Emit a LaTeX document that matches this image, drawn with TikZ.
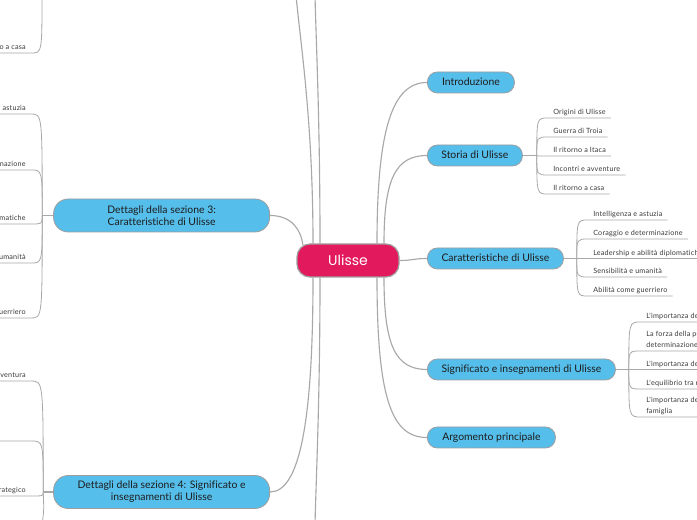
\documentclass[tikz,border=0pt]{standalone}
\usepackage{fontspec}
\setmainfont{Lato}[Ligatures=NoCommon]
\newfontfamily\rootfont{Poppins}
\newfontfamily\leafface{Lato}[Ligatures=NoCommon, LetterSpace=3]
\usepackage{xcolor}
\usepackage{tikz}
\usetikzlibrary{positioning, calc}
\definecolor{nodeBlue}{HTML}{56BEEB}
\definecolor{rootPink}{HTML}{E3195E}
\definecolor{edgeGray}{HTML}{A8A8A8}
\definecolor{borderGray}{HTML}{9E9E9E}
\definecolor{branchText}{HTML}{1C1C1C}
\definecolor{leafText}{HTML}{3A3A3A}

\newcommand{\leaffont}{\leafface\fontsize{5.4pt}{8.25pt}\selectfont}
\newcommand{\branchfont}{\fontsize{7.8pt}{9pt}\selectfont}

\tikzset{
  rootnode/.style={draw=borderGray, line width=0.9pt, fill=rootPink, text=white,
    rounded corners=9.75pt, minimum width=76.5pt, minimum height=24.75pt,
    font=\rootfont\fontsize{10.5pt}{12pt}\selectfont},
  bubble/.style={draw=borderGray, line width=0.6pt, fill=nodeBlue, text=branchText,
    inner xsep=0pt, font=\branchfont},
  branch/.style={bubble, rounded corners=7.5pt, minimum height=15.75pt,
    text height=5.8pt, text depth=1.6pt, anchor=west},
  detail/.style={bubble, rounded corners=11pt, minimum height=24.75pt,
    minimum width=162pt, align=center, anchor=east},
  link/.style={draw=edgeGray, line width=0.85pt},
  twig/.style={draw=edgeGray, line width=0.6pt},
  leafR/.style={font=\leaffont, text=leafText, inner xsep=3.75pt, inner ysep=1.3pt,
    text depth=1pt, anchor=south west, align=left},
  leafL/.style={leafR, anchor=south east, align=right},
}

\begin{document}
\begin{tikzpicture}[x=0.75pt, y=-0.75pt]
  \useasboundingbox[fill=white] (0,0) rectangle (697,520);

  % Root — CENTER
  \node[rootnode] (root) at (348,260.5) {Ulisse};

  % Main topics — RIGHT
  \node[branch, minimum width=65.25pt] (intro) at (427,82.5) {Introduzione};
  \node[branch, minimum width=71.25pt] (storia) at (427,155.5) {Storia di Ulisse};
  \node[branch, minimum width=102pt] (caratt) at (427,258.5) {Caratteristiche di Ulisse};
  \node[branch, minimum width=141pt] (signif) at (427,369.5) {Significato e insegnamenti di Ulisse};
  \node[branch, minimum width=96pt] (argom) at (427,437.5) {Argomento principale};

  % Detail sections — LEFT
  \node[detail] (sez3) at (270,215.5) {Dettagli della sezione 3:\\Caratteristiche di Ulisse};
  \node[detail] (sez4) at (270,492) {Dettagli della sezione 4: Significato e\\insegnamenti di Ulisse};

  % root -> right topics
  \draw[link] ($(root.north)+(29,0)$) .. controls (377,130) and (392,82.5) .. (intro.west);
  \draw[link] ($(root.north)+(36,0)$) .. controls (384,180) and (395,155.5) .. (storia.west);
  \draw[link] (root.east) .. controls (412,260.5) and (414,258.5) .. (caratt.west);
  \draw[link] ($(root.south)+(36,0)$) .. controls (384,345) and (395,369.5) .. (signif.west);
  \draw[link] ($(root.south)+(29,0)$) .. controls (377,400) and (392,437.5) .. (argom.west);

  % root -> left sections (some run off the page)
  \coordinate (up1) at (296,-5);
  \coordinate (up2) at (315,-5);
  \coordinate (down1) at (315,525);
  \draw[link] ($(root.north)+(-45,2)$) .. controls (301,230) and (292,215.5) .. (sez3.east);
  \draw[link] ($(root.south)+(-35,0)$) .. controls (313,420) and (300,492) .. (sez4.east);
  \draw[link] ($(root.north)+(-35,0)$) .. controls (313,120) and (300,40) .. (up1);
  \draw[link] ($(root.north)+(-28,0)$) .. controls (320,120) and (316,40) .. (up2);
  \draw[link] ($(root.south)+(-28,0)$) .. controls (320,400) and (316,480) .. (down1);

  % Storia di Ulisse — leaves
  \coordinate (sj) at ($(storia.east)+(14,0)$);
  \draw[link] (storia.east) -- (sj);
  \foreach \y/\t [count=\i] in {118/Origini di Ulisse, 137/Guerra di Troia,
      156/Il ritorno a Itaca, 175/Incontri e avventure, 194/Il ritorno a casa}{
    \node[leafR] (s\i) at (548,\y) {\t};
    \draw[twig] (sj) .. controls (sj |- s\i.south west) .. (s\i.south west) -- (s\i.south east);
  }

  % Caratteristiche di Ulisse — leaves
  \coordinate (cj) at ($(caratt.east)+(13,0)$);
  \draw[link] (caratt.east) -- (cj);
  \foreach \y/\t [count=\i] in {220/Intelligenza e astuzia, 239/Coraggio e determinazione,
      258.5/Leadership e abilità diplomatiche, 277/Sensibilità e umanità,
      296/Abilità come guerriero}{
    \node[leafR] (c\i) at (588,\y) {\t};
    \draw[twig] (cj) .. controls (cj |- c\i.south west) .. (c\i.south west) -- (c\i.south east);
  }

  % Significato e insegnamenti — leaves
  \coordinate (mj) at ($(signif.east)+(13,0)$);
  \draw[link] (signif.east) -- (mj);
  \foreach \y/\t [count=\i] in {322/L'importanza della conoscenza,
      351/{La forza della perseveranza e della\\determinazione},
      369.5/L'importanza della fedeltà, 389/L'equilibrio tra ragione e cuore,
      417/{L'importanza della casa e della\\famiglia}}{
    \node[leafR] (m\i) at (641,\y) {\t};
    \draw[twig] (mj) .. controls (mj |- m\i.south west) .. (m\i.south west) -- (m\i.south east);
  }

  % Sezione 3 — leaves on the left
  \coordinate (tj) at ($(sez3.west)+(-11,0)$);
  \draw[link] (sez3.west) -- (tj);
  \foreach \y/\t [count=\i] in {114/Intelligenza e astuzia, 170/Coraggio e determinazione,
      224/Leadership e abilità diplomatiche, 263/Sensibilità e umanità,
      318/Abilità come guerriero}{
    \node[leafL] (t\i) at (31,\y) {\t};
    \draw[twig] (tj) .. controls (tj |- t\i.south east) .. (t\i.south east) -- (t\i.south west);
  }

  % Sezione 4 — leaves on the left
  \coordinate (qj) at ($(sez4.west)+(-10,0)$);
  \coordinate (qd) at (42,525);
  \draw[link] (sez4.west) -- (qj);
  \node[leafL] (q1) at (31,381) {avventura};
  \node[leafL, minimum width=60pt] (q2) at (31,441) {};
  \node[leafL] (q3) at (31,496) {strategico};
  \foreach \i in {1,2,3}{
    \draw[twig] (qj) .. controls (qj |- q\i.south east) .. (q\i.south east) -- (q\i.south west);
  }
  \draw[twig] (qj) .. controls (44,510) .. (qd);

  % Sezione 2 — last leaf, top left
  \coordinate (tl) at (42,-5);
  \node[leafL] (casa) at (31,53) {Il ritorno a casa};
  \draw[twig] (tl) .. controls (tl |- casa.south east) .. (casa.south east) -- (casa.south west);
\end{tikzpicture}
\end{document}
